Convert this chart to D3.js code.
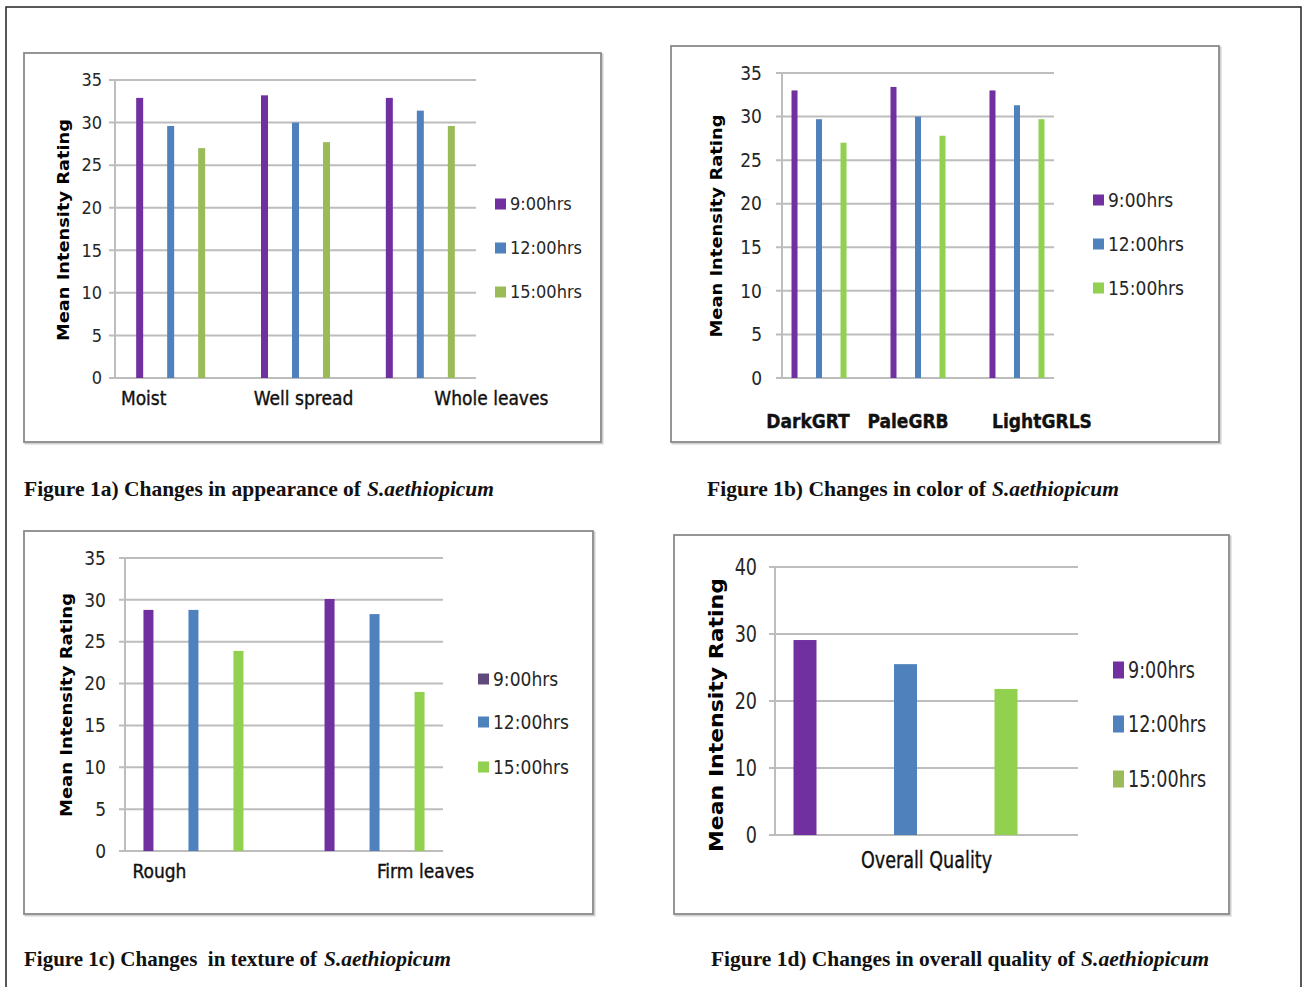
<!DOCTYPE html>
<html>
<head>
<meta charset="utf-8">
<script src="https://cdn.jsdelivr.net/npm/d3@7"></script>
<style>
  html, body { margin: 0; padding: 0; background: #fff; }
  svg { display: block; }
  .tick-label, .legend-label, .cat-label { font-family: "Liberation Sans Narrow", "DejaVu Sans Condensed", "Liberation Sans", sans-serif; fill: #262626; }
  .cat-label { fill: #111; stroke: #111; stroke-width: 0.35; }
  .y-title { font-family: "DejaVu Sans", Verdana, sans-serif; font-weight: bold; fill: #000; }
  .caption { font-family: "Liberation Serif", "DejaVu Serif", serif; font-weight: bold; fill: #111; }
</style>
</head>
<body>
<svg id="chart" width="1304" height="987"></svg>
<script>
// === DATA ===
const series = ["9:00hrs", "12:00hrs", "15:00hrs"];

const appearanceCats = ["Moist", "Well spread", "Whole leaves"];
const appearance9 = [32.9, 33.2, 32.9];
const appearance12 = [29.6, 30.0, 31.4];
const appearance15 = [27.0, 27.7, 29.6];

const colorCats = ["DarkGRT", "PaleGRB", "LightGRLS"];
const color9 = [33.0, 33.4, 33.0];
const color12 = [29.7, 30.0, 31.3];
const color15 = [27.0, 27.8, 29.7];

const textureCats = ["Rough", "Firm leaves"];
const texture9 = [28.8, 30.1];
const texture12 = [28.8, 28.3];
const texture15 = [23.9, 19.0];

const qualityCats = ["Overall Quality"];
const quality9 = [29.1];
const quality12 = [25.5];
const quality15 = [21.8];

const ticks35 = [0, 5, 10, 15, 20, 25, 30, 35];
const ticks40 = [0, 10, 20, 30, 40];

const yTitle = "Mean Intensity Rating";
const captionText = [
    "Figure 1a) Changes in appearance of",
    "Figure 1b) Changes in color of",
    "Figure 1c) Changes  in texture of",
    "Figure 1d) Changes in overall quality of"
];
const speciesName = "S.aethiopicum";

// === LAYOUT (positions & styles, per panel) ===
const purple = "#7030a0", blue = "#4f81bd", green = "#92d050", olive = "#9bbb59";

const panels = [
    {
        cats: appearanceCats, values: [appearance9, appearance12, appearance15], ticks: ticks35,
        box: [24, 53, 577, 389], x0: 115, x1: 476, yTop: 80, yBot: 378,
        groupRange: [115, 476], groupPad: 0.446, barGap: 31, barW: 7,
        barColors: [purple, blue, olive], legendColors: [purple, blue, olive],
        tickFont: 18, tickRight: 102, condense: 1,
        labelDx: [-27, 8, 71], labelY: 405, labelFont: 19, labelWeight: "normal",
        legendX: 495, legendY: [204, 248, 292], swatch: [11, 11], legendFont: 18,
        titleX: 63, titleY: 230, titleFont: 16, titleLen: 222,
        caption: { x: 24, y: 496, len: 337, italX: 367, italLen: 127 }
    },
    {
        cats: colorCats, values: [color9, color12, color15], ticks: ticks35,
        box: [671, 46, 548, 396], x0: 782, x1: 1054, yTop: 73, yBot: 378,
        groupRange: [782, 1054], groupPad: 0.374, barGap: 24.5, barW: 6,
        barColors: [purple, blue, green], legendColors: [purple, blue, green],
        tickFont: 19, tickRight: 762, condense: 1,
        labelDx: [-11, -10, 25], labelY: 428, labelFont: 19, labelWeight: "bold",
        legendX: 1093, legendY: [200, 244, 288], swatch: [11, 11], legendFont: 19,
        titleX: 716, titleY: 226, titleFont: 16, titleLen: 223,
        caption: { x: 707, y: 496, len: 279, italX: 992, italLen: 127 }
    },
    {
        cats: textureCats, values: [texture9, texture12, texture15], ticks: ticks35,
        box: [24, 531, 569, 383], x0: 125, x1: 443, yTop: 558, yBot: 851,
        groupRange: [125, 443], groupPad: 0.378, barGap: 45, barW: 10,
        barColors: [purple, blue, green], legendColors: ["#604a7b", blue, green],
        tickFont: 19, tickRight: 106, condense: 1,
        labelDx: [-34, 51], labelY: 878, labelFont: 19, labelWeight: "normal",
        legendX: 478, legendY: [679, 722, 767], swatch: [11, 11], legendFont: 19,
        titleX: 66, titleY: 705, titleFont: 16, titleLen: 224,
        caption: { x: 24, y: 966, len: 293, italX: 324, italLen: 127 }
    },
    {
        cats: qualityCats, values: [quality9, quality12, quality15], ticks: ticks40,
        box: [674, 535, 555, 379], x0: 775, x1: 1078, yTop: 567, yBot: 835,
        groupRange: [775, 1036], groupPad: 0.5, barGap: 100.5, barW: 23,
        barColors: [purple, blue, green], legendColors: [purple, blue, olive],
        tickFont: 23, tickRight: 757, condense: 0.85,
        labelDx: [21], labelY: 868, labelFont: 23, labelWeight: "normal",
        legendX: 1113, legendY: [670, 724, 779], swatch: [11, 17], legendFont: 23,
        titleX: 716, titleY: 715, titleFont: 19, titleLen: 274,
        caption: { x: 711, y: 966, len: 364, italX: 1081, italLen: 128 }
    }
];

const svg = d3.select("#chart");

// outer frame
svg.append("rect")
    .attr("x", 6).attr("y", 7)
    .attr("width", 1295).attr("height", 990)
    .attr("fill", "none").attr("stroke", "#222").attr("stroke-width", 1.5);

function drawPanel(p) {
    const g = svg.append("g");
    const sq = " scale(" + p.condense + ",1)";

    // chart box with a faint shadow
    g.append("rect")
        .attr("x", p.box[0] + 1.5).attr("y", p.box[1] + 1.5)
        .attr("width", p.box[2]).attr("height", p.box[3])
        .attr("fill", "none").attr("stroke", "#d0d0d0").attr("stroke-width", 2);
    g.append("rect")
        .attr("x", p.box[0]).attr("y", p.box[1])
        .attr("width", p.box[2]).attr("height", p.box[3])
        .attr("fill", "#fff").attr("stroke", "#8a8a8a").attr("stroke-width", 1.8);

    const yMax = p.ticks[p.ticks.length - 1];
    const y = d3.scaleLinear().domain([0, yMax]).range([p.yBot, p.yTop]);
    const x = d3.scalePoint().domain(p.cats).range(p.groupRange).padding(p.groupPad);
    const xs = d3.scalePoint().domain(series).range([-p.barGap, p.barGap]);

    // gridlines
    g.selectAll(".grid")
        .data(p.ticks)
        .enter()
        .append("line")
        .attr("x1", p.x0 - 6)
        .attr("x2", p.x1)
        .attr("y1", d => y(d))
        .attr("y2", d => y(d))
        .attr("stroke", "#bdbdbd")
        .attr("stroke-width", 2);

    // y axis line
    g.append("line")
        .attr("x1", p.x0).attr("x2", p.x0)
        .attr("y1", p.yTop).attr("y2", p.yBot)
        .attr("stroke", "#bdbdbd").attr("stroke-width", 2);

    // tick labels
    g.selectAll(".tick-label")
        .data(p.ticks)
        .enter()
        .append("text")
        .attr("class", "tick-label")
        .attr("transform", d => "translate(" + p.tickRight + "," + y(d) + ")" + sq)
        .attr("dy", "0.35em")
        .attr("text-anchor", "end")
        .attr("font-size", p.tickFont)
        .text(d => d);

    // bars
    series.forEach((s, si) => {
        g.selectAll(".bar-" + si)
            .data(p.cats.map((c, ci) => ({ cat: c, v: p.values[si][ci] })))
            .enter()
            .append("rect")
            .attr("x", d => x(d.cat) + xs(s) - p.barW / 2)
            .attr("y", d => y(d.v))
            .attr("width", p.barW)
            .attr("height", d => y(0) - y(d.v))
            .attr("fill", p.barColors[si]);
    });

    // category labels
    g.selectAll(".cat-label")
        .data(p.cats)
        .enter()
        .append("text")
        .attr("class", "cat-label")
        .attr("transform", (d, i) => "translate(" + (x(d) + p.labelDx[i]) + "," + p.labelY + ")" + sq)
        .attr("text-anchor", "middle")
        .attr("font-size", p.labelFont)
        .attr("font-weight", p.labelWeight)
        .text(d => d);

    // legend
    const leg = g.selectAll(".legend")
        .data(series)
        .enter()
        .append("g")
        .attr("transform", (d, i) => "translate(" + p.legendX + "," + p.legendY[i] + ")");
    leg.append("rect")
        .attr("x", 0).attr("y", -p.swatch[1] / 2)
        .attr("width", p.swatch[0]).attr("height", p.swatch[1])
        .attr("fill", (d, i) => p.legendColors[i]);
    leg.append("text")
        .attr("class", "legend-label")
        .attr("transform", "translate(" + (p.swatch[0] + 4) + ",0)" + sq)
        .attr("dy", "0.35em")
        .attr("font-size", p.legendFont)
        .text(d => d);

    // y axis title
    g.append("text")
        .attr("class", "y-title")
        .attr("transform", "translate(" + p.titleX + "," + p.titleY + ") rotate(-90)")
        .attr("text-anchor", "middle")
        .attr("dy", "0.35em")
        .attr("font-size", p.titleFont)
        .attr("textLength", p.titleLen)
        .attr("lengthAdjust", "spacingAndGlyphs")
        .text(yTitle);
}

panels.forEach(drawPanel);

// captions
panels.forEach((p, i) => {
    const c = p.caption;
    svg.append("text")
        .attr("class", "caption")
        .attr("x", c.x).attr("y", c.y)
        .attr("font-size", 22)
        .attr("textLength", c.len)
        .attr("lengthAdjust", "spacingAndGlyphs")
        .attr("xml:space", "preserve")
        .style("white-space", "pre")
        .text(captionText[i]);
    svg.append("text")
        .attr("class", "caption")
        .attr("x", c.italX).attr("y", c.y)
        .attr("font-size", 22)
        .attr("font-style", "italic")
        .attr("textLength", c.italLen)
        .attr("lengthAdjust", "spacingAndGlyphs")
        .text(speciesName);
});
</script>
</body>
</html>
